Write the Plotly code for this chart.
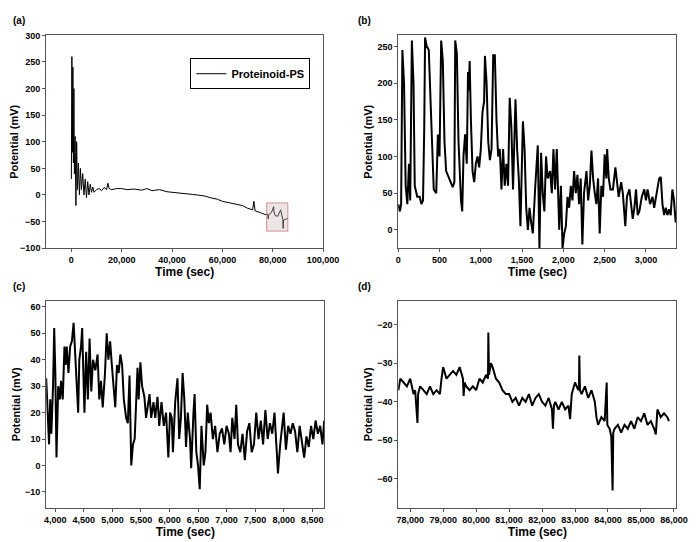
import plotly.graph_objects as go
from plotly.subplots import make_subplots

# (a) full recording
a_t = [0, 200, 400, 600, 800, 1000, 1200, 1500, 1800, 2100, 2400, 2800, 3200, 3600, 4000, 4500,
       5000, 5500, 6000, 6500, 7000, 7500, 8000, 8500, 9000, 10000, 11000, 12000, 13000, 14000,
       14500, 15000, 16000, 18000, 20000, 22000, 25000, 28000, 30000, 32000, 35000, 38000, 40000,
       43000, 45000, 48000, 50000, 53000, 55000, 58000, 60000, 62000, 65000, 68000, 70000, 72000,
       72500, 73000, 75000, 77000, 78000, 78200, 78400, 79500, 80370, 80500, 81000, 82000, 83130,
       83500, 84000, 84140, 84300, 85000, 86000]
a_v = [30, 260, 80, 240, 60, 200, 40, 110, -20, 100, 10, 60, 0, 50, 10, 40,
       0, 30, -5, 25, 0, 20, 5, 15, 5, 10, 12, 8, 14, 10,
       22, 12, 10, 12, 12, 10, 11, 9, 12, 8, 10, 6, 5,
       3, 2, 1, 0, -2, -5, -8, -12, -14, -18, -20, -25, -28,
       -12, -30, -33, -37, -36, -45, -37, -33, -22, -32, -39, -40, -28,
       -38, -46, -63, -47, -46, -44]

# (b) first ~3400 s
b_t = [0, 20, 35, 50, 70, 90, 110, 130, 145, 165, 185, 200, 230, 260, 280, 300, 315, 325, 345, 370,
       390, 410, 430, 460, 480, 500, 520, 540, 560, 580, 620, 660, 680, 690, 710, 730, 760, 775, 790,
       810, 830, 845, 855, 865, 880, 900, 920, 940, 960, 980, 1000, 1020, 1040, 1050, 1070, 1090, 1110,
       1130, 1150, 1170, 1190, 1210, 1230, 1250, 1270, 1290, 1310, 1330, 1350, 1370, 1390, 1410, 1420,
       1440, 1460, 1480, 1500, 1510, 1530, 1550, 1570, 1590, 1610, 1630, 1660, 1690, 1710, 1730, 1750,
       1770, 1790, 1810, 1840, 1860, 1880, 1900, 1920, 1950, 1970, 1990, 2010, 2030, 2050, 2070, 2090,
       2110, 2130, 2150, 2170, 2190, 2210, 2230, 2250, 2280, 2300, 2320, 2340, 2360, 2380, 2400, 2420,
       2440, 2460, 2480, 2500, 2520, 2530, 2550, 2570, 2600, 2630, 2650, 2670, 2700, 2720, 2750, 2770,
       2800, 2820, 2840, 2860, 2880, 2900, 2920, 2950, 2980, 3000, 3020, 3050, 3080, 3100, 3130, 3160,
       3180, 3200, 3220, 3240, 3260, 3280, 3300, 3320, 3340, 3360]
b_v = [35, 25, 35, 245, 200, 60, 35, 90, 40, 258, 200, 60, 45, 45, 35, 40, 140, 262, 250, 245,
       180, 100, 55, 50, 130, 100, 258, 230, 120, 80, 70, 58, 65, 258, 240, 120, 40, 25, 100,
       130, 90, 215, 190, 230, 150, 80, 65, 90, 100, 85, 110, 160, 175, 237, 200, 120, 95,
       110, 238, 238, 150, 100, 110, 55, 110, 60, 90, 60, 180, 140, 55, 120, 178,
       110, 70, 5, 110, 148, 110, 30, 0, 30, 10, -5, 60, 115, -25, 105, 50,
       25, 100, 70, 80, 50, 110, 55, 110, 0, 60, -25, -5, 5, 45, 30, 60,
       40, 80, 50, 75, 35, 70, -20, 50, 80, 40, 60, 108, 70, 50, 35, 70,
       -5, 60, 45, 103, 70, 110, 70, 55, 55, 85, 60, 45, 65, 50, 5, 45,
       55, 35, 15, 30, 55, 20, 25, 45, 55, 40, 55, 35, 45, 30, 50, 70,
       72, 35, 20, 30, 20, 28, 20, 55, 40, 10]

# (c) 3,840-8,710 s
c_t = [3840, 3870, 3890, 3910, 3930, 3960, 3980, 4000, 4020, 4050, 4080, 4100, 4130, 4160, 4180, 4200,
       4230, 4260, 4290, 4320, 4350, 4380, 4400, 4420, 4450, 4470, 4490, 4510, 4540, 4570, 4600, 4630,
       4660, 4700, 4740, 4770, 4800, 4830, 4870, 4900, 4930, 4960, 4990, 5020, 5050, 5080, 5110, 5140,
       5170, 5200, 5240, 5270, 5300, 5330, 5360, 5390, 5420, 5440, 5460, 5490, 5520, 5560, 5590, 5620,
       5650, 5680, 5720, 5750, 5790, 5820, 5860, 5900, 5940, 5980, 6010, 6040, 6060, 6100, 6140, 6170,
       6200, 6230, 6260, 6290, 6320, 6360, 6380, 6420, 6440, 6470, 6500, 6530, 6560, 6600, 6630, 6660,
       6690, 6720, 6760, 6800, 6840, 6880, 6920, 6960, 7000, 7040, 7070, 7100, 7140, 7170, 7200, 7240,
       7280, 7320, 7360, 7400, 7440, 7480, 7520, 7560, 7600, 7640, 7680, 7720, 7760, 7800, 7840, 7880,
       7900, 7940, 7980, 8000, 8040, 8080, 8120, 8160, 8200, 8240, 8280, 8320, 8360, 8400, 8440, 8480,
       8520, 8560, 8600, 8640, 8680, 8710]
c_v = [33, 15, 8, 25, 12, 30, 52, 35, 3, 30, 25, 32, 25, 45, 38, 45,
       35, 45, 47, 54, 42, 30, 20, 40, 45, 52, 30, 20, 43, 25, 48, 28,
       40, 36, 42, 25, 32, 22, 35, 50, 40, 47, 38, 30, 22, 38, 35, 42,
       38, 25, 18, 16, 34, 0, 8, 10, 28, 37, 25, 39, 30, 26, 18, 22,
       27, 18, 24, 18, 26, 15, 24, 15, 20, 3, 20, 18, 5, 24, 33, 10,
       18, 35, 25, 7, 20, 10, -1, 20, 27, 5, 0, -9, 15, 0, 5, 23,
       16, 20, 10, 15, 5, 12, 14, 8, 15, 12, 5, 18, 10, 23, 8, 5,
       12, 2, 13, 16, 5, 8, 20, 10, 17, 8, 21, 10, 16, 12, 20, 5,
       -3, 8, 15, 20, 6, 15, 12, 16, 13, 5, 15, 8, 3, 11, 7, 15,
       10, 17, 12, 15, 8, 17]

# (d) 77,640-85,850 s
d_t = [77640, 77700, 77800, 77900, 78000, 78100, 78150, 78220, 78240, 78300, 78400, 78500, 78600, 78700,
       78800, 78900, 78950, 79000, 79100, 79200, 79300, 79400, 79500, 79600, 79620, 79650, 79700, 79800,
       79900, 80000, 80100, 80200, 80300, 80360, 80370, 80390, 80450, 80500, 80600, 80700, 80800, 80900,
       81000, 81100, 81200, 81300, 81400, 81500, 81600, 81700, 81800, 81900, 82000, 82100, 82200, 82300,
       82330, 82360, 82400, 82500, 82600, 82700, 82800, 82850, 82900, 83000, 83100, 83120, 83130, 83150,
       83200, 83300, 83400, 83500, 83600, 83650, 83700, 83800, 83900, 83960, 83980, 84050, 84100, 84140,
       84160, 84200, 84300, 84400, 84500, 84600, 84700, 84800, 84900, 85000, 85100, 85200, 85300, 85400,
       85450, 85500, 85600, 85700, 85800, 85850]
d_v = [-37, -34, -35, -36, -34, -38, -37, -45.5, -38, -36, -37, -38, -36, -38,
       -37, -38, -34, -31, -34, -33, -32, -33, -31, -34, -38.5, -35, -36, -37,
       -36, -37, -34, -35, -33, -34, -22, -33, -30, -31, -34, -35, -37, -38,
       -38, -40, -39, -41, -39, -40, -38, -41, -39, -38, -40, -41, -39, -42,
       -47, -41, -40, -42, -40, -42, -41, -44.5, -38, -35, -37, -36, -28, -37,
       -38, -36, -39, -37, -40, -44, -46, -44, -45, -35, -46, -47, -49, -63,
       -48, -47, -46, -48, -46, -47, -45, -47, -44, -45, -43, -46, -45, -47,
       -48.5, -42, -44, -43, -44, -45]

fig = make_subplots(rows=2, cols=2)
fig.add_trace(go.Scatter(x=a_t, y=a_v, mode="lines", line=dict(color="black", width=1),
                         name="Proteinoid-PS", showlegend=True), row=1, col=1)
fig.add_trace(go.Scatter(x=b_t, y=b_v, mode="lines", line=dict(color="black", width=2),
                         showlegend=False), row=1, col=2)
fig.add_trace(go.Scatter(x=c_t, y=c_v, mode="lines", line=dict(color="black", width=2),
                         showlegend=False), row=2, col=1)
fig.add_trace(go.Scatter(x=d_t, y=d_v, mode="lines", line=dict(color="black", width=2),
                         showlegend=False), row=2, col=2)

font = "Liberation Sans"
ax = dict(showline=True, mirror=True, linecolor="#555", linewidth=1, ticks="outside",
          ticklen=3, tickcolor="#555", showgrid=False, zeroline=False,
          tickfont=dict(size=9, family=font, color="black", weight="bold"))
xt = dict(text="<b>Time (sec)</b>", font=dict(size=12, family=font, color="black"), standoff=2)
yt = dict(text="<b>Potential (mV)</b>", font=dict(size=11, family=font, color="black"), standoff=2)

fig.update_layout(
    width=696, height=542, margin=dict(l=0, r=0, t=0, b=0),
    plot_bgcolor="white", paper_bgcolor="white",
    xaxis=dict(ax, domain=[0.052, 0.461], range=[-10000, 100000], dtick=20000,
               tickformat=",d", title=xt),
    yaxis=dict(ax, domain=[0.558, 0.958], range=[-100, 300], dtick=50, title=yt),
    xaxis2=dict(ax, domain=[0.572, 0.983], range=[0, 3370], dtick=500,
                tickformat=",d", title=xt),
    yaxis2=dict(ax, domain=[0.558, 0.958], range=[-25, 265], dtick=50, title=yt),
    xaxis3=dict(ax, domain=[0.052, 0.463], range=[3840, 8715], dtick=500,
                tickformat=",d", title=xt),
    yaxis3=dict(ax, domain=[0.07, 0.459], range=[-16, 62.3], dtick=10, title=yt),
    xaxis4=dict(ax, domain=[0.572, 0.983], range=[77637, 86078], dtick=1000,
                tickformat=",d", title=xt),
    yaxis4=dict(ax, domain=[0.07, 0.459], range=[-67.5, -13.8], dtick=10, title=yt),
    legend=dict(x=0.265, y=0.915, xanchor="left", yanchor="top", bgcolor="white",
                bordercolor="black", borderwidth=1,
                font=dict(size=11, family=font, color="black", weight="bold")),
)

fig.add_shape(type="rect", xref="x", yref="y", x0=77600, x1=86000, y0=-68, y1=-15,
              line=dict(color="rgba(200,120,120,0.8)", width=1),
              fillcolor="rgba(200,180,180,0.35)")

for txt, x, y in [("(a)", 0.0, 1.0), ("(b)", 0.51, 1.0), ("(c)", 0.0, 0.5), ("(d)", 0.51, 0.5)]:
    fig.add_annotation(text="<b>" + txt + "</b>", xref="paper", yref="paper", x=x, y=y,
                       xanchor="left", yanchor="top", showarrow=False,
                       font=dict(size=10, family=font, color="black"))

fig.write_html("out.html")
